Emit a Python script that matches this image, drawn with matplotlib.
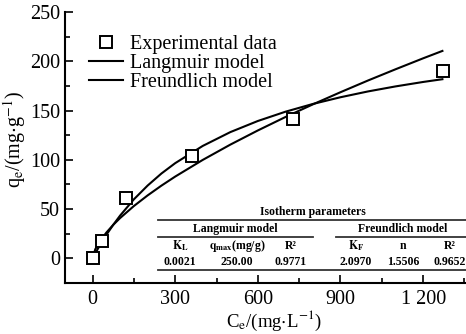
import matplotlib
matplotlib.use("Agg")
import matplotlib.pyplot as plt
from matplotlib.lines import Line2D
from matplotlib.ticker import MultipleLocator, FixedLocator, FixedFormatter

plt.rcParams['font.family'] = ['Liberation Serif', 'DejaVu Serif']
plt.rcParams['mathtext.fontset'] = 'stix'

# experimental points
ce_exp = [0, 33, 121, 361, 727, 1273]
qe_exp = [0, 17.5, 61, 103.5, 141, 190]

# model curves
ce_fit = [0, 10, 25, 50, 75, 100, 150, 200, 250, 300, 400, 500, 600, 700,
          800, 900, 1000, 1100, 1200, 1270]
q_langmuir = [0, 5.1, 12.5, 23.8, 34.0, 43.4, 59.9, 73.9, 86.1, 96.6, 114.1,
              128.1, 139.4, 148.8, 156.7, 163.5, 169.4, 174.5, 179.0, 181.8]
q_freundlich = [0, 9.3, 16.7, 26.1, 34.0, 40.9, 53.1, 63.9, 73.8, 83.0, 99.9,
                115.4, 129.8, 143.4, 156.3, 168.6, 180.5, 191.9, 203.0, 210.5]

xticks = [0, 300, 600, 900, 1200]
xtick_labels = ["0", "300", "600", "900", "1 200"]

W, H = 466, 334
fig = plt.figure(figsize=(W / 100, H / 100), dpi=100)
ax = fig.add_axes([65 / W, 1 - 283 / H, 400 / W, (283 - 12) / H])

ax.plot(ce_exp, qe_exp, 's', ms=9, mfc='white', mec='black', mew=1.4,
        label='Experimental data', zorder=3)
ax.plot(ce_fit, q_langmuir, '-', color='black', lw=1.5, label='Langmuir model')
ax.plot(ce_fit, q_freundlich, '-', color='black', lw=1.5, label='Freundlich model')

ax.set_xlim(-100, 1352)
ax.set_ylim(-25, 250)
ax.xaxis.set_major_locator(FixedLocator(xticks))
ax.xaxis.set_major_formatter(FixedFormatter(xtick_labels))
ax.xaxis.set_minor_locator(MultipleLocator(150))
ax.yaxis.set_major_locator(MultipleLocator(50))
ax.yaxis.set_minor_locator(MultipleLocator(25))
ax.set_yticks([0, 50, 100, 150, 200, 250])

for s in ['top', 'right']:
    ax.spines[s].set_visible(False)
for s in ['left', 'bottom']:
    ax.spines[s].set_linewidth(1.5)
ax.tick_params(which='both', direction='in', width=1.2, labelsize=14.5)
ax.tick_params(which='major', length=6)
ax.tick_params(which='minor', length=3.5)
ax.tick_params(axis='x', which='major', pad=5)

ax.set_xlabel(r'C$_\mathrm{e}$/(mg$\cdot$L$^{-1}$)', fontsize=13.5)
ax.set_ylabel(r'q$_\mathrm{e}$/(mg$\cdot$g$^{-1}$)', fontsize=14.5)
ax.xaxis.set_label_coords(0.522, -0.096)
ax.yaxis.set_label_coords(-0.0925, 0.528)

ax.legend(loc='upper left', bbox_to_anchor=(0.04, 0.945), frameon=False,
          fontsize=14.5, labelspacing=0.0, handlelength=1.7, handletextpad=0.35,
          borderaxespad=0)

# parameter table
def fx(px):
    return px / W

def fy(py):
    return 1 - py / H

def hline(x0, x1, y):
    fig.add_artist(Line2D([fx(x0), fx(x1)], [fy(y), fy(y)], color='#333333', lw=1.3))

tkw = dict(ha='center', va='center', fontsize=8.5, fontweight='bold')
fig.text(fx(313), fy(212), 'Isotherm parameters', **tkw)
hline(158, 466, 220)
fig.text(fx(235), fy(229), 'Langmuir model', **tkw)
fig.text(fx(403), fy(229), 'Freundlich model', **tkw)
hline(158, 313, 237)
hline(336, 466, 237)

headers = [r'$\mathbf{K_L}$', r'$\mathbf{q_{max}}$(mg/g)', 'R²',
           r'$\mathbf{K_F}$', 'n', 'R²']
values = ['0.0021', '250.00', '0.9771', '2.0970', '1.5506', '0.9652']
col_x = [180, 237, 291, 356, 403, 450]
for x, h, v in zip(col_x, headers, values):
    fig.text(fx(x), fy(246), h, **tkw)
    fig.text(fx(x), fy(262), v, **tkw)
hline(158, 466, 270)

fig.savefig('out.png', dpi=100)
